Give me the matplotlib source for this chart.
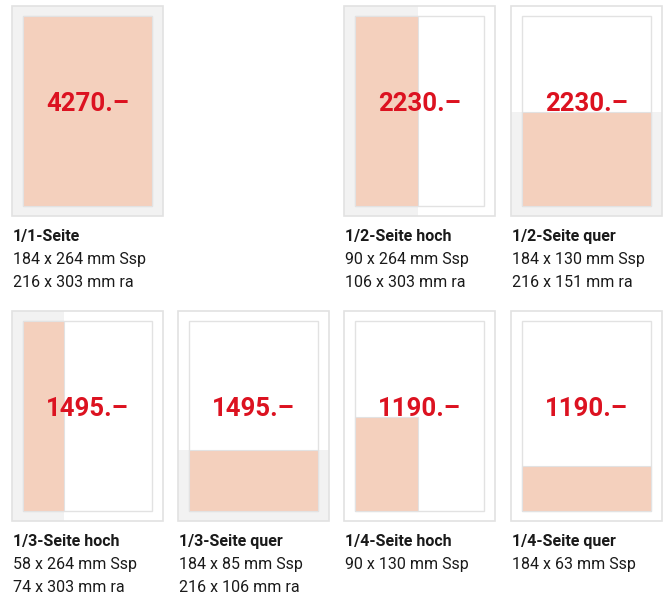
"""
Anzeigenformate und Preise: Seitenschema mit Satzspiegel (Ssp) und Anschnitt (ra).
"""

import matplotlib
matplotlib.use("Agg")
import matplotlib.pyplot as plt
from matplotlib.patches import Rectangle

# type area (Satzspiegel) in mm
ssp_page_w, ssp_page_h = 184, 264

titles = ["1/1-Seite", "1/2-Seite hoch", "1/2-Seite quer", "1/3-Seite hoch",
          "1/3-Seite quer", "1/4-Seite hoch", "1/4-Seite quer"]
prices = ["4270.–", "2230.–", "2230.–", "1495.–", "1495.–", "1190.–", "1190.–"]
ssp_w = [184, 90, 184, 58, 184, 90, 184]
ssp_h = [264, 264, 130, 264, 85, 130, 63]
ra_w = [216, 106, 216, 74, 216, None, None]
ra_h = [303, 303, 151, 303, 106, None, None]

# (row, col) slot of each format in the grid
slots = [(0, 0), (0, 2), (0, 3), (1, 0), (1, 1), (1, 2), (1, 3)]

W, H = 664, 594
col_left = [12, 178, 344, 511]
row_top = [6, 311]
box_w, box_h = 151, 210

# schematic page frame (drawing units ~ mm, margins as in the sheet)
frame_w, frame_h = 216, 292
mx = (frame_w - ssp_page_w) / 2
my = (frame_h - ssp_page_h) / 2

SALMON = "#f4d0bd"
BLEED = "#f2f2f2"
EDGE = "#e2e2e2"
RED = "#dc1220"
TXT = "#1a1a1a"

plt.rcParams["font.family"] = ["Roboto", "DejaVu Sans"]

fig = plt.figure(figsize=(W / 100, H / 100), dpi=100)
fig.patch.set_facecolor("white")

for i, (r, c) in enumerate(slots):
    left = col_left[c] / W
    bottom = 1 - (row_top[r] + box_h) / H
    ax = fig.add_axes([left, bottom, box_w / W, box_h / H])
    ax.set_xlim(0, frame_w)
    ax.set_ylim(0, frame_h)
    ax.axis("off")

    # page
    ax.add_patch(Rectangle((0, 0), frame_w, frame_h, facecolor="white",
                           edgecolor="none", zorder=1))
    # bleed (ra): the ad pulled out to the page edges
    if ra_w[i] is not None:
        bw = frame_w if ssp_w[i] == ssp_page_w else mx + ssp_w[i]
        bh = frame_h if ssp_h[i] == ssp_page_h else my + ssp_h[i]
        ax.add_patch(Rectangle((0, 0), bw, bh, facecolor=BLEED,
                               edgecolor="none", zorder=2))
    ax.add_patch(Rectangle((0, 0), frame_w, frame_h, facecolor="none",
                           edgecolor=EDGE, lw=1.2, clip_on=False, zorder=2.5))
    # type area frame
    ax.add_patch(Rectangle((mx, my), ssp_page_w, ssp_page_h, facecolor="white",
                           edgecolor=EDGE, lw=1.0, zorder=3))
    # ad size (Ssp)
    ax.add_patch(Rectangle((mx, my), ssp_w[i], ssp_h[i], facecolor=SALMON,
                           edgecolor=EDGE, lw=0.8, zorder=4))

    ax.text(frame_w / 2, frame_h / 2, prices[i], ha="center", va="baseline",
            color=RED, fontsize=18.5, fontweight="bold", zorder=6)

    lines = [f"{ssp_w[i]} x {ssp_h[i]} mm Ssp"]
    if ra_w[i] is not None:
        lines.append(f"{ra_w[i]} x {ra_h[i]} mm ra")
    ax.annotate(titles[i], xy=(0, 0), xycoords="axes fraction",
                xytext=(1, -25), textcoords="offset pixels", va="baseline",
                ha="left", fontsize=11.5, fontweight="bold", color=TXT)
    for k, s in enumerate(lines):
        ax.annotate(s, xy=(0, 0), xycoords="axes fraction",
                    xytext=(1, -48 - 23 * k), textcoords="offset pixels",
                    va="baseline", ha="left", fontsize=11.5, color=TXT)

fig.savefig("out.png", dpi=100)
